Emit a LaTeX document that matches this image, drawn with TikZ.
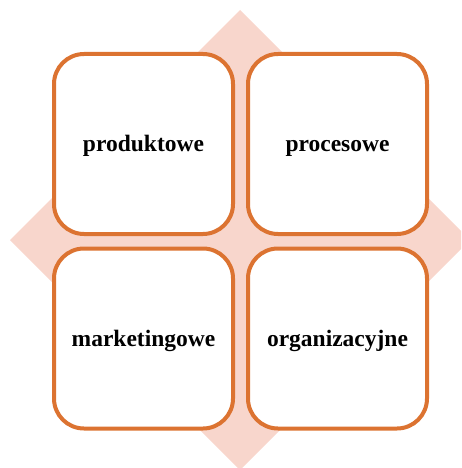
\documentclass[tikz,border=0pt]{standalone}
\usepackage{fontspec}
\setmainfont{Liberation Serif}
\definecolor{boxorange}{HTML}{DC7331}
\definecolor{peach}{HTML}{F8D6CC}
\begin{document}
\begin{tikzpicture}[x=1pt,y=-1pt,
  card/.style={draw=boxorange, line width=4pt, fill=white, rounded corners=30pt,
    minimum width=179pt, minimum height=180pt, inner sep=0pt, outer sep=0pt,
    text height=20pt, text depth=4.6pt,
    font=\bfseries\fontsize{23.5}{28}\selectfont}]
\useasboundingbox (0,0) rectangle (461,468);
\clip (0,0) rectangle (461,468);
\fill[peach] (240,10) -- (470,240) -- (240,470) -- (10,240) -- cycle;
\node[card] (prod) at (143.5,144) {produktowe};
\node[card] (proc) at (337.5,144) {procesowe};
\node[card] (mark) at (143.5,338.5) {marketingowe};
\node[card] (org) at (337.5,338.5) {organizacyjne};
\end{tikzpicture}
\end{document}
